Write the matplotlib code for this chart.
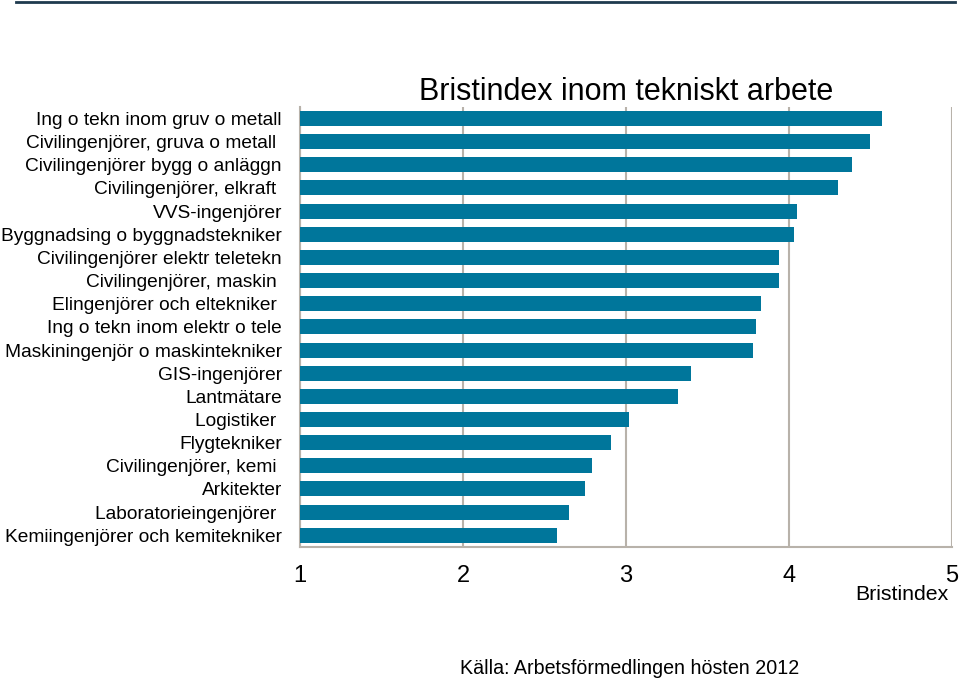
import matplotlib.pyplot as plt
from matplotlib.lines import Line2D

plt.rcParams['font.family'] = ['Liberation Sans', 'DejaVu Sans']

# Data
yrken = [
    "Ing o tekn inom gruv o metall",
    "Civilingenjörer, gruva o metall ",
    "Civilingenjörer bygg o anläggn",
    "Civilingenjörer, elkraft ",
    "VVS-ingenjörer",
    "Byggnadsing o byggnadstekniker",
    "Civilingenjörer elektr teletekn",
    "Civilingenjörer, maskin ",
    "Elingenjörer och eltekniker ",
    "Ing o tekn inom elektr o tele",
    "Maskiningenjör o maskintekniker",
    "GIS-ingenjörer",
    "Lantmätare",
    "Logistiker ",
    "Flygtekniker",
    "Civilingenjörer, kemi ",
    "Arkitekter",
    "Laboratorieingenjörer ",
    "Kemiingenjörer och kemitekniker",
]
bristindex = [4.57, 4.50, 4.39, 4.30, 4.05, 4.03, 3.94, 3.94, 3.83, 3.80,
              3.78, 3.40, 3.32, 3.02, 2.91, 2.79, 2.75, 2.65, 2.58]
xticks = [1, 2, 3, 4, 5]

bar_color = '#00769B'
grid_color = '#B8B2AA'

fig = plt.figure(figsize=(9.6, 6.81), dpi=100)
ax = fig.add_axes([0.3125, 0.197, 0.679, 0.646])

ypos = list(range(len(yrken)))
ax.barh(ypos, bristindex, height=0.65, color=bar_color, zorder=3)

ax.set_xlim(1, 5)
ax.set_ylim(len(yrken) - 0.5, -0.5)
ax.set_xticks(xticks)
ax.set_xticklabels([str(t) for t in xticks], fontsize=17)
ax.set_yticks(ypos)
ax.set_yticklabels(yrken, fontsize=13.8)
ax.tick_params(axis='x', length=0, pad=13)
ax.tick_params(axis='y', length=0, pad=13)

ax.grid(axis='x', color=grid_color, linewidth=1.5, zorder=0)
for side in ['top', 'right']:
    ax.spines[side].set_visible(False)
for side in ['left', 'bottom']:
    ax.spines[side].set_color(grid_color)
    ax.spines[side].set_linewidth(1.5)

ax.set_title("Bristindex inom tekniskt arbete", fontsize=22, pad=4)
fig.text(0.988, 0.127, "Bristindex", fontsize=15.3, ha='right', va='center')
fig.text(0.479, 0.019, "Källa: Arbetsförmedlingen hösten 2012", fontsize=14.1,
         ha='left', va='center')

# thin dark line at the top of the page
fig.add_artist(Line2D([0.017, 0.995], [0.997, 0.997], color='#1E3A4E',
                      linewidth=2, transform=fig.transFigure))

plt.savefig('out.png', dpi=100)
